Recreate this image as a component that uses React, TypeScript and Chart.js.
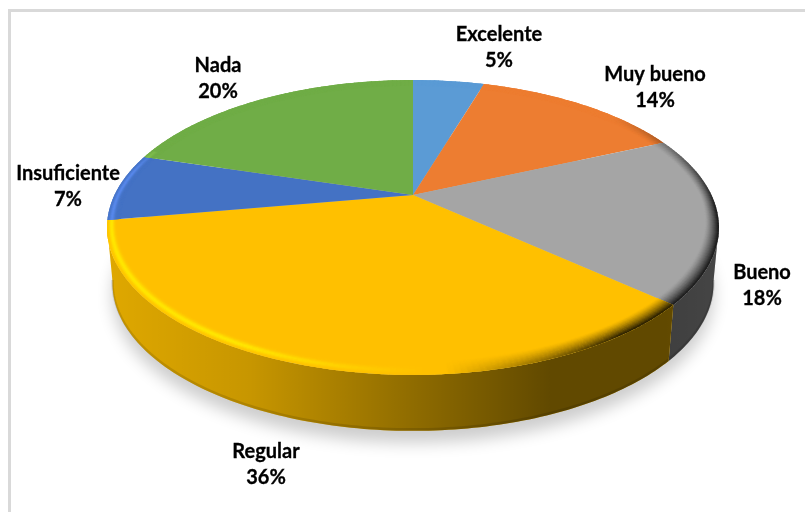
import React, { useEffect, useRef } from "react";
import { Chart, registerables } from "chart.js";

Chart.register(...registerables);

const categories = ["Excelente", "Muy bueno", "Bueno", "Regular", "Insuficiente", "Nada"];
const shares = [4.65, 13.7, 18.3, 35.6, 7.4, 20.35];
const colours = ["#5B9BD5", "#ED7D31", "#A5A5A5", "#FFC000", "#4472C4", "#70AD47"];
const labelCentres = [[499, 34.5], [655, 74.5], [762, 272.5], [266, 451.5], [68, 173.5], [218, 65.5]];

// Perspective view of the pie plane
const CX = 413, CY = 195, A = 140.3, B = 298.5, K = 0.22, DEPTH = 56, LOWER = 0.982;
const FONT = 'bold 20px Lato, "Open Sans", sans-serif';

const project = (a: number, r = 1, drop = 0, sx = 1): [number, number] => {
  const u = r * Math.cos(a), v = r * Math.sin(a);
  const d = 1 - K * v;
  return [CX + (sx * B * u) / d, CY + drop + (A * v) / d];
};

const hex = (c: string) => [1, 3, 5].map((i) => parseInt(c.slice(i, i + 2), 16));
const clamp = (x: number) => Math.max(0, Math.min(1, x));
const mix = (p: number[], q: number[], t: number) => p.map((v, i) => v + (q[i] - v) * t);
const rgb = (c: number[]) => `rgb(${c.map(Math.round).join(",")})`;
const DEG = Math.PI / 180;

const pie3d = {
  id: "pie3d",
  beforeDatasetsDraw(chart: any) {
    const ctx: CanvasRenderingContext2D = chart.ctx;
    const arcs = chart.getDatasetMeta(0).data;
    ctx.save();

    // Frame
    ctx.strokeStyle = "#d9d9d9";
    ctx.lineWidth = 3;
    ctx.beginPath();
    ctx.moveTo(9.5, 512);
    ctx.lineTo(9.5, 10.5);
    ctx.lineTo(805, 10.5);
    ctx.stroke();

    // Soft shadow under the pie
    ctx.save();
    ctx.shadowColor = "rgba(0,0,0,0.2)";
    ctx.shadowBlur = 16;
    ctx.shadowOffsetY = 12;
    ctx.fillStyle = "#bbb";
    ctx.beginPath();
    for (let d = 0; d <= 360; d += 2) {
      const [x, y] = project(d * DEG, 1, DEPTH, LOWER);
      if (d === 0) ctx.moveTo(x, y); else ctx.lineTo(x, y);
    }
    ctx.closePath();
    ctx.fill();
    ctx.restore();

    // Side wall
    const shade = ctx.createLinearGradient(113, 0, 720, 0);
    shade.addColorStop(0, "rgba(0,0,0,0.13)");
    shade.addColorStop(0.226, "rgba(0,0,0,0.22)");
    shade.addColorStop(0.494, "rgba(0,0,0,0.44)");
    shade.addColorStop(0.72, "rgba(0,0,0,0.62)");
    shade.addColorStop(0.91, "rgba(0,0,0,0.62)");
    shade.addColorStop(1, "rgba(0,0,0,0.58)");
    const lo = 12 * DEG, hi = 168 * DEG;
    arcs.forEach((arc: any) => {
      const from = Math.max(arc.startAngle, lo);
      const to = Math.min(arc.endAngle, hi);
      if (to <= from) return;
      const n = Math.ceil((to - from) / DEG);
      const path = () => {
        ctx.beginPath();
        for (let i = 0; i <= n; i++) {
          const [x, y] = project(from + ((to - from) * i) / n);
          if (i === 0) ctx.moveTo(x, y); else ctx.lineTo(x, y);
        }
        for (let i = n; i >= 0; i--) {
          const [x, y] = project(from + ((to - from) * i) / n, 1, DEPTH, LOWER);
          ctx.lineTo(x, y);
        }
        ctx.closePath();
      };
      path();
      ctx.fillStyle = arc.options.backgroundColor;
      ctx.fill();
      path();
      ctx.fillStyle = shade;
      ctx.fill();
      // Darker lip along the lower edge
      ctx.strokeStyle = "rgba(0,0,0,0.12)";
      ctx.lineWidth = 2.5;
      ctx.beginPath();
      for (let i = 0; i <= n; i++) {
        const [x, y] = project(from + ((to - from) * i) / n, 1, DEPTH - 1.5, LOWER);
        if (i === 0) ctx.moveTo(x, y); else ctx.lineTo(x, y);
      }
      ctx.stroke();
    });

    // Top face
    arcs.forEach((arc: any) => {
      const base = hex(arc.options.backgroundColor);
      const from = arc.startAngle, to = arc.endAngle;
      const n = Math.ceil((to - from) / DEG);
      ctx.fillStyle = rgb(base);
      ctx.beginPath();
      ctx.moveTo(CX, CY);
      for (let i = 0; i <= n; i++) {
        const [x, y] = project(from + ((to - from) * i) / n);
        ctx.lineTo(x, y);
      }
      ctx.closePath();
      ctx.fill();

      // Bevel along the rim
      const glow = [Math.min(255, base[0] * 1.3), Math.min(255, base[1] * 1.2), Math.min(255, base[2] * 1.2)];
      const bands = 14;
      const widthAt = (a: number) => 0.036 + 0.024 * Math.abs(Math.sin(a));
      for (let b = bands - 1; b >= 0; b--) {
        const t0 = b / bands, t1 = (b + 1) / bands, t = (t0 + t1) / 2;
        for (let i = 0; i < n; i++) {
          const a0 = from + ((to - from) * i) / n;
          const a1 = from + ((to - from) * (i + 1)) / n;
          const a2 = Math.min(a1 + 0.2 * DEG, to);
          const m = (a0 + a1) / 2 / DEG;
          const deg = ((m % 360) + 360) % 360;
          const d = deg > 200 ? deg - 360 : deg;
          const dark = clamp((d + 40) / 45) * clamp((85 - d) / 30);
          const light = clamp((d - 88) / 30) * clamp((205 - d) / 15);
          const darkP = Math.pow(1 - t, 1.3) * 0.85;
          const lightP = Math.exp(-Math.pow((t - 0.3) / 0.2, 2));
          let c = mix(base, glow, light * lightP);
          c = mix(c, [0, 0, 0], dark * darkP);
          const p1 = project(a0, 1 - t0 * widthAt(a0)), p2 = project(a2, 1 - t0 * widthAt(a2));
          const p3 = project(a2, 1 - t1 * widthAt(a2) - 0.002), p4 = project(a0, 1 - t1 * widthAt(a0) - 0.002);
          ctx.fillStyle = rgb(c);
          ctx.beginPath();
          ctx.moveTo(p1[0], p1[1]);
          ctx.lineTo(p2[0], p2[1]);
          ctx.lineTo(p3[0], p3[1]);
          ctx.lineTo(p4[0], p4[1]);
          ctx.closePath();
          ctx.fill();
        }
      }
    });
    ctx.restore();
    return false;
  },
  afterDraw(chart: any) {
    const ctx: CanvasRenderingContext2D = chart.ctx;
    const values: number[] = chart.data.datasets[0].data;
    const total = values.reduce((s, v) => s + v, 0);
    ctx.save();
    ctx.fillStyle = "#000";
    ctx.strokeStyle = "#000";
    ctx.lineWidth = 0.3;
    ctx.font = FONT;
    ctx.textAlign = "center";
    ctx.textBaseline = "middle";
    chart.data.labels.forEach((name: string, i: number) => {
      const [x, y] = labelCentres[i];
      const pct = `${Math.round((values[i] / total) * 100)}%`;
      ctx.fillText(name, x, y);
      ctx.strokeText(name, x, y);
      ctx.fillText(pct, x, y + 26);
      ctx.strokeText(pct, x, y + 26);
    });
    ctx.restore();
  },
};

export default function App() {
  const ref = useRef<HTMLCanvasElement>(null);
  useEffect(() => {
    document.body.style.margin = "0";
    document.body.style.background = "#fff";
    const chart = new Chart(ref.current!, {
      type: "pie",
      data: {
        labels: categories,
        datasets: [{ data: shares, backgroundColor: colours, borderWidth: 0 }],
      },
      options: {
        responsive: false,
        animation: false,
        plugins: { legend: { display: false }, title: { display: false }, tooltip: { enabled: false } },
      },
      plugins: [pie3d],
    } as any);
    return () => chart.destroy();
  }, []);
  return <canvas ref={ref} width={805} height={512} style={{ display: "block" }} />;
}
